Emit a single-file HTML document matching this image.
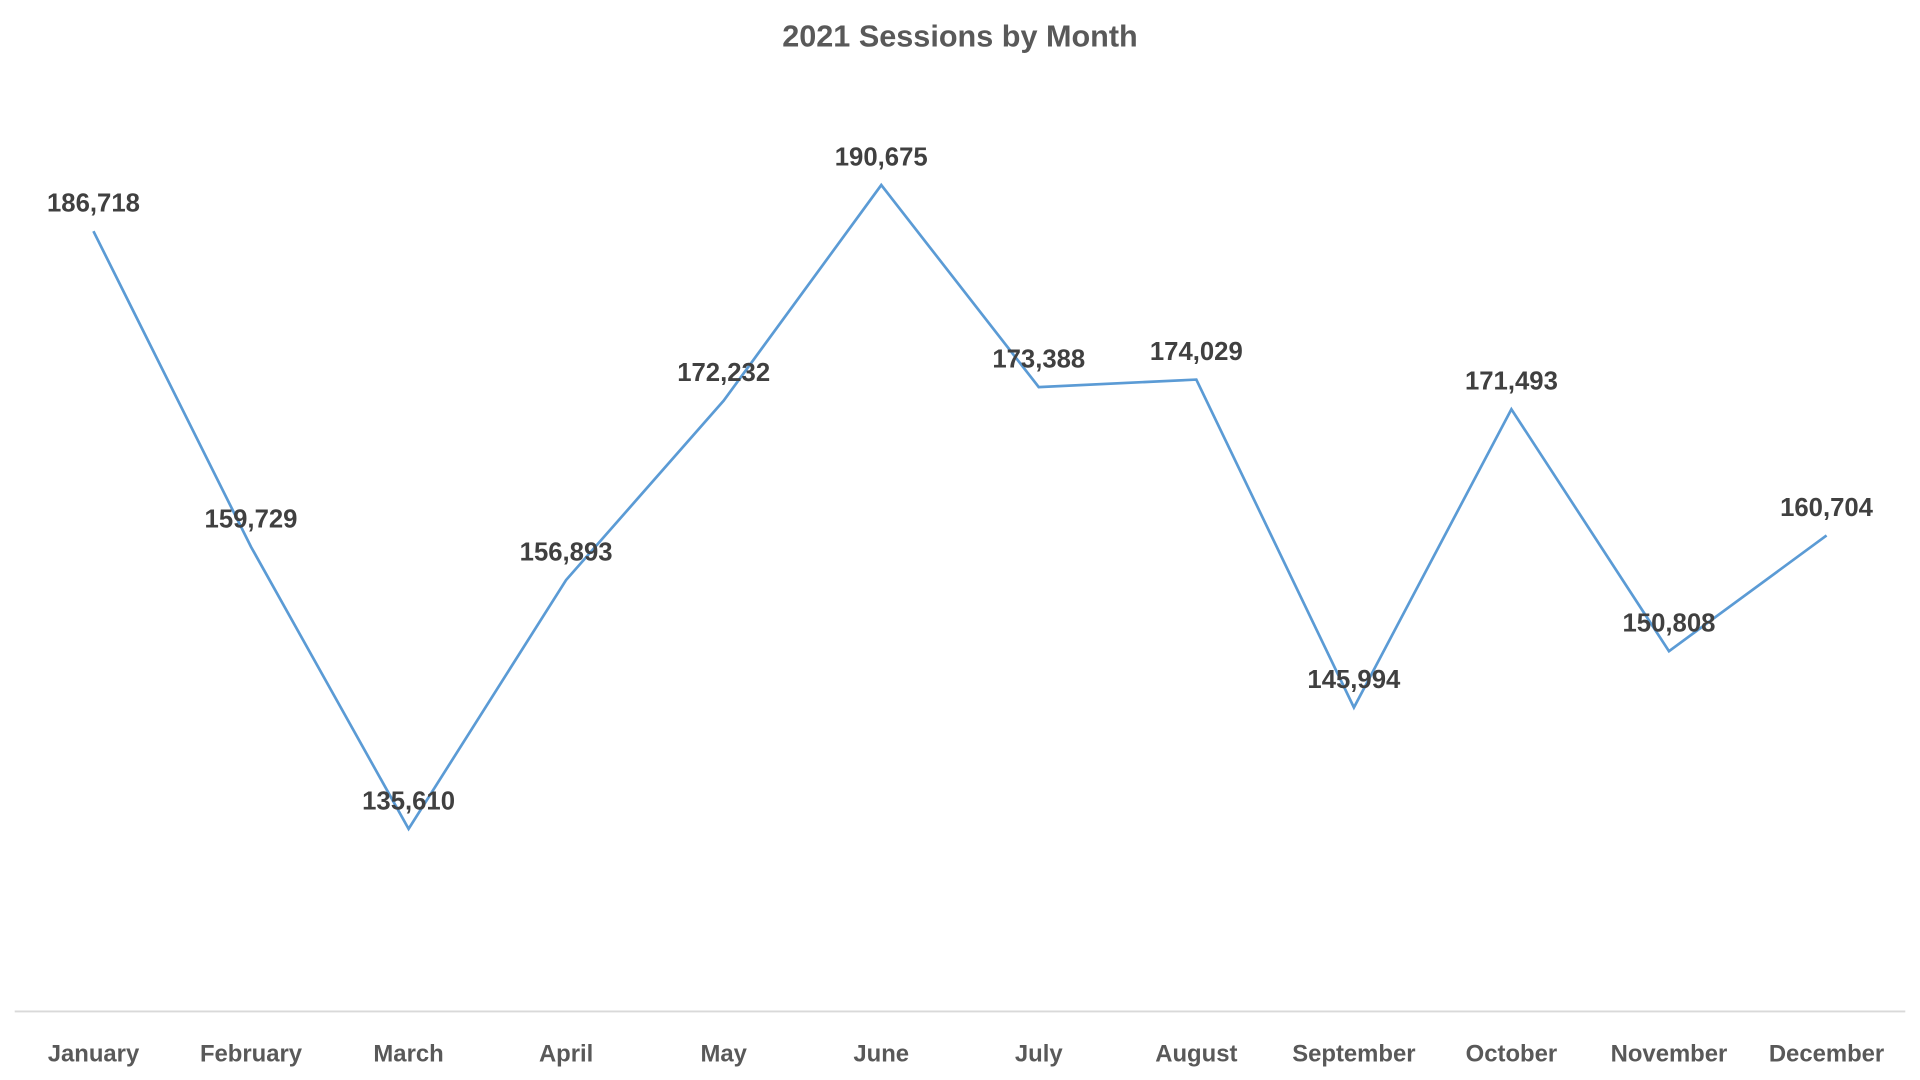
<!DOCTYPE html>
<html><head><meta charset="utf-8"><style>
html,body{margin:0;padding:0;background:#fff;width:1920px;height:1080px;overflow:hidden}
svg{display:block}
text{font-family:"Liberation Sans",sans-serif;font-weight:bold}
</style></head><body>
<svg id="chart" width="1920" height="1080" viewBox="0 0 1568 882" preserveAspectRatio="none">
<text x="784" y="38" text-anchor="middle" font-size="25" fill="#595959">2021 Sessions by Month</text>
<line x1="12" y1="826" x2="1556" y2="826" stroke="#d9d9d9" stroke-width="1.5"/>
<g id="xlabels"></g>
<path id="line" fill="none" stroke="#5b9bd5" stroke-width="2.2"/>
<g id="dlabels"></g>
</svg>
<script>
const categories=["January","February","March","April","May","June","July","August","September","October","November","December"];
const sessions=[186718,159729,135610,156893,172232,190675,173388,174029,145994,171493,150808,160704];
const yMin=120000, yMax=200000;
const plotTop=62, plotBottom=826, plotLeft=12, plotRight=1556;
const step=(plotRight-plotLeft)/categories.length;
function xPos(i){return plotLeft+step*(i+0.5);}
function yPos(v){return plotBottom-(v-yMin)/(yMax-yMin)*(plotBottom-plotTop);}
const NS="http://www.w3.org/2000/svg";
const xg=document.getElementById('xlabels'), dg=document.getElementById('dlabels');
let d="";
sessions.forEach((v,i)=>{
  const x=xPos(i), y=yPos(v);
  d+=(i?"L":"M")+x.toFixed(1)+" "+y.toFixed(1);
  const t=document.createElementNS(NS,'text');
  
  
  t.setAttribute('x',x);t.setAttribute('y',y-16);
  t.setAttribute('text-anchor','middle');t.setAttribute('font-size','21');t.setAttribute('fill','#404040');
  t.textContent=v.toLocaleString('en-US');
  dg.appendChild(t);
});
document.getElementById('line').setAttribute('d',d);
categories.forEach((c,i)=>{
  const t=document.createElementNS(NS,'text');
  
  
  t.setAttribute('x',xPos(i));t.setAttribute('y',867);
  t.setAttribute('text-anchor','middle');t.setAttribute('font-size','19.5');t.setAttribute('fill','#595959');
  t.textContent=c;
  xg.appendChild(t);
});
</script>
</body></html>
